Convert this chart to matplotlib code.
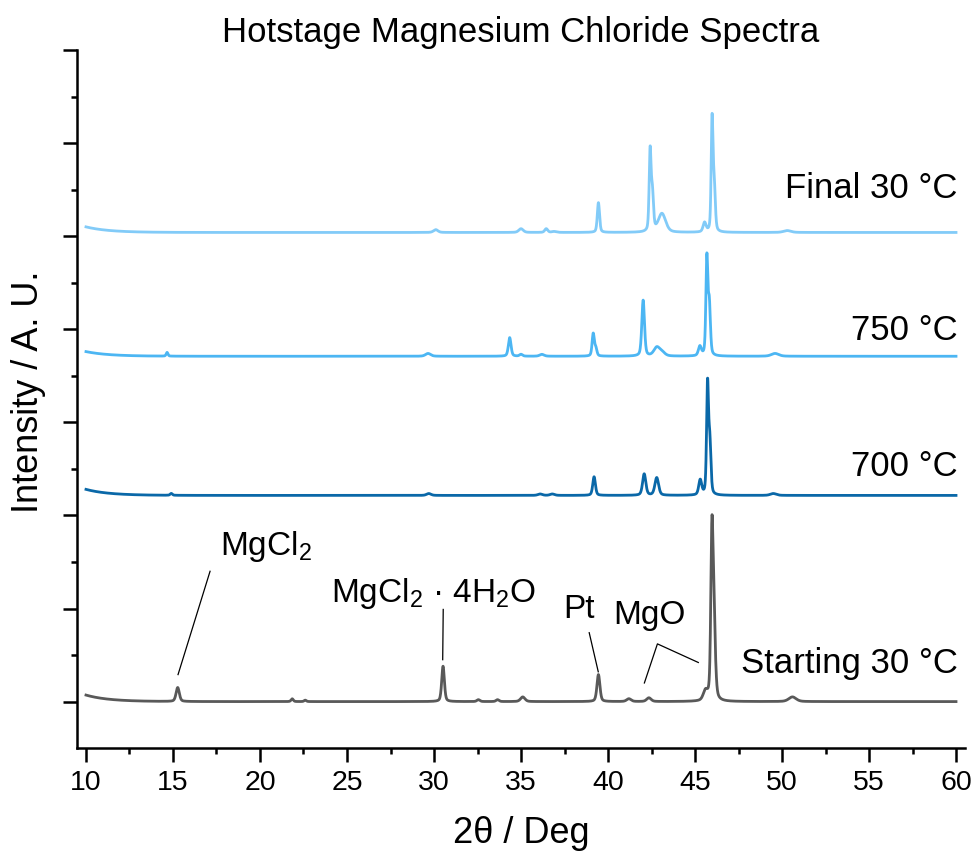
import matplotlib.pyplot as plt
import numpy as np

plt.rcParams['font.family'] = ['Liberation Sans', 'DejaVu Sans']
plt.rcParams['mathtext.fontset'] = 'custom'
plt.rcParams['mathtext.rm'] = 'Liberation Sans'
plt.rcParams['mathtext.it'] = 'Liberation Sans:italic'
plt.rcParams['mathtext.bf'] = 'Liberation Sans:bold'

# peak lists: position (deg), height (a.u.), fwhm (deg)
start_pos = [15.27, 21.85, 22.6, 30.52, 32.55, 33.65, 35.1, 39.45, 41.2, 42.35, 45.6, 45.97, 46.08, 50.6]
start_h = [0.15, 0.03, 0.015, 0.38, 0.02, 0.02, 0.05, 0.29, 0.03, 0.04, 0.1, 1.6, 0.85, 0.05]
start_w = [0.22, 0.15, 0.15, 0.18, 0.2, 0.2, 0.3, 0.2, 0.3, 0.3, 0.3, 0.15, 0.2, 0.5]

t700_pos = [14.9, 29.7, 36.1, 36.8, 39.2, 42.08, 42.8, 45.3, 45.72, 45.85, 49.5]
t700_h = [0.02, 0.02, 0.015, 0.015, 0.2, 0.23, 0.19, 0.16, 1.16, 0.55, 0.02]
t700_w = [0.15, 0.3, 0.3, 0.3, 0.18, 0.22, 0.25, 0.2, 0.13, 0.15, 0.4]

t750_pos = [14.66, 29.66, 34.35, 35.0, 36.2, 39.15, 39.3, 42.02, 42.8, 43.1, 45.28, 45.68, 45.82, 49.6]
t750_h = [0.04, 0.03, 0.2, 0.02, 0.02, 0.24, 0.08, 0.6, 0.09, 0.04, 0.1, 1.03, 0.55, 0.03]
t750_w = [0.12, 0.35, 0.18, 0.2, 0.3, 0.15, 0.15, 0.18, 0.4, 0.4, 0.2, 0.13, 0.15, 0.5]

final_pos = [30.1, 35.0, 36.45, 36.9, 39.45, 42.42, 42.55, 43.1, 45.55, 45.98, 46.1, 50.3]
final_h = [0.03, 0.04, 0.04, 0.01, 0.32, 0.85, 0.4, 0.2, 0.1, 1.17, 0.5, 0.02]
final_w = [0.3, 0.3, 0.2, 0.3, 0.15, 0.13, 0.15, 0.5, 0.2, 0.12, 0.15, 0.5]

offsets = [0.0, 2.215, 3.71, 5.04]
bg_start = [0.07, 0.065, 0.05, 0.06]   # extra intensity at 10 deg, dies out by ~14 deg
names = ['Starting 30 °C', '700 °C', '750 °C', 'Final 30 °C']
colors = ['#595959', '#0a68a8', '#4cb6f3', '#82cbf8']
label_y = [0.31, 2.42, 3.88, 5.41]


def spectrum(x, pos, h, w, offset, bg):
    y = np.full_like(x, offset) + bg * np.exp(-(x - 10) / 1.3)
    for p, a, f in zip(pos, h, w):
        g = np.exp(-4 * np.log(2) * ((x - p) / f) ** 2)
        lor = 1 / (1 + (2 * (x - p) / f) ** 2)
        y += a * (0.6 * g + 0.4 * lor)
    return y


x = np.linspace(10, 60, 5001)
peaks = [(start_pos, start_h, start_w), (t700_pos, t700_h, t700_w),
         (t750_pos, t750_h, t750_w), (final_pos, final_h, final_w)]

fig = plt.figure(figsize=(9.74, 8.55), dpi=100)
ax = fig.add_axes([0.079, 0.125, 0.912, 0.8165])

for i in range(4):
    y = spectrum(x, *peaks[i], offsets[i], bg_start[i])
    ax.plot(x, y, color=colors[i], lw=2.0)
    ax.text(60.1, label_y[i], names[i], ha='right', va='baseline', fontsize=25)

# peak annotations
ax.text(17.7, 1.58, 'MgCl$_2$', fontsize=24)
ax.plot([17.13, 15.29], [1.40, 0.29], color='black', lw=0.9)
ax.text(24.09, 1.075, 'MgCl$_2$ · 4H$_2$O', fontsize=24)
ax.plot([30.53, 30.5], [0.99, 0.45], color='black', lw=0.9)
ax.text(37.43, 0.90, 'Pt', fontsize=24)
ax.plot([38.92, 39.44], [0.74, 0.32], color='black', lw=0.9)
ax.text(40.3, 0.83, 'MgO', fontsize=24)
ax.plot([42.09, 42.84, 45.19], [0.20, 0.62, 0.42], color='black', lw=0.9)

ax.set_xlim(9.48, 60.53)
ax.set_ylim(-0.5, 7)
ax.set_xticks(np.arange(10, 61, 5))
ax.set_xticks(np.arange(12.5, 60, 5), minor=True)
ax.set_yticks(np.arange(0, 8, 1))
ax.set_yticks(np.arange(0.5, 7, 1), minor=True)
ax.set_yticklabels([])
ax.tick_params(which='major', length=10, width=1.8, labelsize=20.5, pad=6)
ax.tick_params(which='minor', length=4.5, width=1.8)
for s in ['top', 'right']:
    ax.spines[s].set_visible(False)
for s in ['left', 'bottom']:
    ax.spines[s].set_linewidth(1.8)

ax.set_title('Hotstage Magnesium Chloride Spectra', fontsize=25, pad=6)
ax.set_xlabel('2θ / Deg', fontsize=26)
ax.set_ylabel('Intensity / A. U.', fontsize=26)
ax.xaxis.set_label_coords(0.5, -0.097)
ax.yaxis.set_label_coords(-0.035, 0.51)

plt.savefig('out.png', dpi=100)
